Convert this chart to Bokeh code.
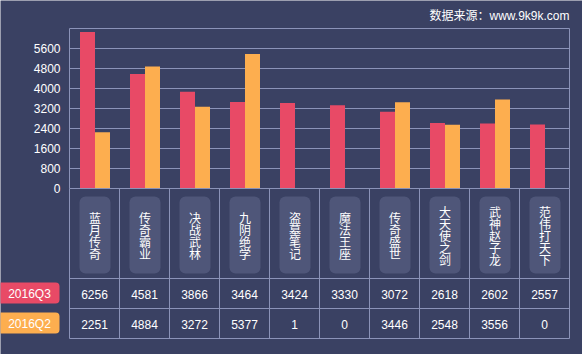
from bokeh.plotting import figure
from bokeh.core.properties import value
from bokeh.embed import file_html
from bokeh.resources import INLINE

# ---- data ----
categories = ["蓝月传奇", "传奇霸业", "决战武林", "九阴绝学", "盗墓笔记",
              "魔法王座", "传奇盛世", "大天使之剑", "武神赵子龙", "范伟打天下"]
series_names = ["2016Q3", "2016Q2"]
q3_values = [6256, 4581, 3866, 3464, 3424, 3330, 3072, 2618, 2602, 2557]
q2_values = [2251, 4884, 3272, 5377, 1, 0, 3446, 2548, 3556, 0]
y_ticks = [0, 800, 1600, 2400, 3200, 4000, 4800, 5600]
y_max = 6400
source_text = "数据来源：www.9k9k.com"

# ---- style ----
BG = "#3a4163"
GRID = "#8b93b8"
RED = "#e84a66"
ORANGE = "#fdae4f"
BOX = "#4f5679"
LATIN = value("Liberation Sans")
CJK = value("Noto Sans CJK SC")

W, H = 582, 354
# column i centred at x=i, 50 px per column; y: 40 units per px, 0 at 188 px from top
px_per_col = 50.0
u_per_px = 40.0
x0_px = 94.0
y0_px = 188.0
x_start = -x0_px / px_per_col
x_end = (W - x0_px) / px_per_col
y_end = y0_px * u_per_px
y_start = -(H - y0_px) * u_per_px

def ypx(py):
    return (y0_px - py) * u_per_px

n = len(categories)
xs = list(range(n))

p = figure(width=W, height=H, x_range=(x_start, x_end), y_range=(y_start, y_end),
           x_axis_type=None, y_axis_type=None, toolbar_location=None,
           output_backend="svg", min_border=0)
p.background_fill_color = BG
p.border_fill_color = BG
p.outline_line_color = None
p.grid.visible = False

left_edge = -0.5
right_edge = n - 0.5

# grid lines (chart area)
grid_ys = [t for t in y_ticks if t > 0] + [y_max]
p.segment(x0=[left_edge] * len(grid_ys), x1=[right_edge] * len(grid_ys),
          y0=grid_ys, y1=grid_ys, line_color=GRID, line_width=1)

# bars
p.vbar(x=[x - 0.14 for x in xs], top=q3_values, width=0.3, bottom=0,
       fill_color=RED, line_color=None)
p.vbar(x=[x + 0.16 for x in xs], top=q2_values, width=0.3, bottom=0,
       fill_color=ORANGE, line_color=None)

# y tick labels
p.text(x=[-0.68] * len(y_ticks), y=y_ticks, text=[str(t) for t in y_ticks],
       text_align="right", text_baseline="middle", text_color="white",
       text_font=LATIN, text_font_size="12px")

# table horizontal lines
row_lines = [0, ypx(278), ypx(308), ypx(338)]
p.segment(x0=[left_edge] * len(row_lines), x1=[right_edge] * len(row_lines),
          y0=row_lines, y1=row_lines, line_color=GRID, line_width=1)
# table vertical lines
col_lines = [i - 0.5 for i in range(n + 1)]
p.segment(x0=col_lines, x1=col_lines, y0=[ypx(338)] * len(col_lines),
          y1=[0] * len(col_lines), line_color=GRID, line_width=1)
# outer vertical borders up to the top
p.segment(x0=[left_edge, right_edge], x1=[left_edge, right_edge],
          y0=[0, 0], y1=[y_max, y_max], line_color=GRID, line_width=1)

# category label boxes
p.quad(left=[x - 0.3 for x in xs], right=[x + 0.32 for x in xs],
       top=[ypx(196)] * n, bottom=[ypx(273)] * n,
       fill_color=BOX, line_color=None, border_radius=6)

# vertical category text, one character per line (12 px pitch)
cx, cy, ct = [], [], []
for i, name in enumerate(categories):
    k = len(name)
    for j, ch in enumerate(name):
        cx.append(i + 0.01)
        cy.append(ypx(234.5 + (j - (k - 1) / 2.0) * 12.0))
        ct.append(ch)
p.text(x=cx, y=cy, text=ct, text_align="center", text_baseline="middle",
       text_color="white", text_font=CJK, text_font_size="12px")

# table values
p.text(x=xs, y=[ypx(293.5)] * n, text=[str(v) for v in q3_values],
       text_align="center", text_baseline="middle", text_color="white",
       text_font=LATIN, text_font_size="12px")
p.text(x=xs, y=[ypx(323.5)] * n, text=[str(v) for v in q2_values],
       text_align="center", text_baseline="middle", text_color="white",
       text_font=LATIN, text_font_size="12px")

# legend badges
badge_right = (59 - x0_px) / px_per_col
p.quad(left=[x_start - 0.2] * 2, right=[badge_right] * 2,
       top=[ypx(282), ypx(312)], bottom=[ypx(303), ypx(333)],
       fill_color=[RED, ORANGE], line_color=None, border_radius=4)
p.text(x=[(29 - x0_px) / px_per_col] * 2, y=[ypx(293), ypx(323)],
       text=series_names, text_align="center", text_baseline="middle",
       text_color="white", text_font=LATIN, text_font_size="12px")

# source note
p.text(x=[right_edge], y=[ypx(15)], text=[source_text], text_align="right",
       text_baseline="middle", text_color="white",
       text_font=value("Liberation Sans, Noto Sans CJK SC"), text_font_size="12px")

open("out.html", "w").write(file_html(p, INLINE))
